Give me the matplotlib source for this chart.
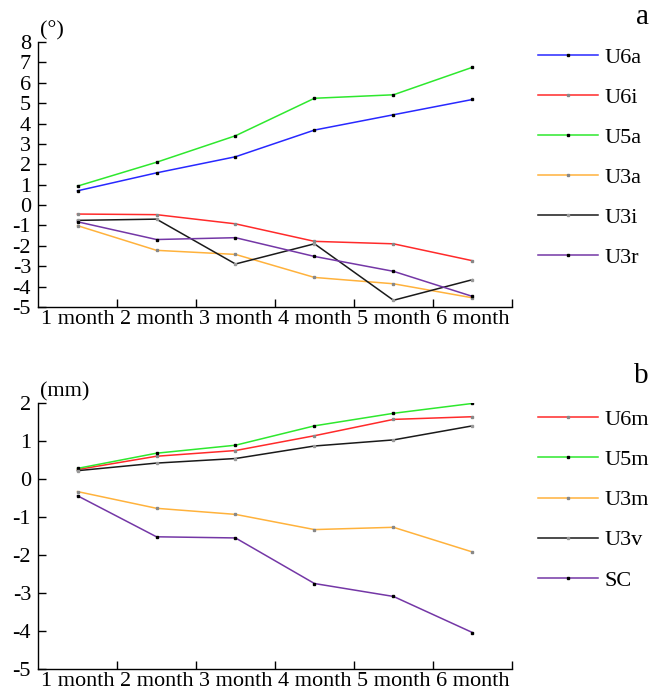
import numpy as np
import matplotlib
matplotlib.use("Agg")
import matplotlib.pyplot as plt

plt.rcParams['font.family'] = ['Liberation Serif', 'DejaVu Serif']

months = ["1 month", "2 month", "3 month", "4 month", "5 month", "6 month"]

# panel a, angles in degrees
U6a = [0.70, 1.58, 2.37, 3.68, 4.43, 5.18]
U6i = [-0.44, -0.47, -0.92, -1.78, -1.90, -2.73]
U5a = [0.93, 2.10, 3.40, 5.24, 5.41, 6.76]
U3a = [-1.01, -2.22, -2.42, -3.55, -3.86, -4.55]
U3i = [-0.75, -0.69, -2.89, -1.90, -4.67, -3.66]
U3r = [-0.82, -1.69, -1.60, -2.52, -3.25, -4.48]

# panel b, distances in mm
U6m = [0.25, 0.60, 0.75, 1.14, 1.57, 1.64]
U5m = [0.28, 0.68, 0.89, 1.40, 1.73, 1.99]
U3m = [-0.33, -0.77, -0.93, -1.33, -1.27, -1.92]
U3v = [0.22, 0.42, 0.54, 0.87, 1.03, 1.40]
SC = [-0.44, -1.52, -1.55, -2.75, -3.09, -4.04]

BLUE, RED, GREEN = '#2828ff', '#ff2a2a', '#2ee82e'
ORANGE, BLACK, PURPLE = '#ffb23c', '#1a1a1a', '#7437a6'

series_a = [("U6a", U6a, BLUE, 'k'), ("U6i", U6i, RED, '#888888'),
            ("U5a", U5a, GREEN, 'k'), ("U3a", U3a, ORANGE, '#888888'),
            ("U3i", U3i, BLACK, '#999999'), ("U3r", U3r, PURPLE, 'k')]
series_b = [("U6m", U6m, RED, '#888888'), ("U5m", U5m, GREEN, 'k'),
            ("U3m", U3m, ORANGE, '#888888'), ("U3v", U3v, BLACK, '#999999'),
            ("SC", SC, PURPLE, 'k')]

FS = 16
fig = plt.figure(figsize=(6.51, 6.93), dpi=100)
ax_a = fig.add_axes([0.0584, 0.557, 0.728, 0.3824])
ax_b = fig.add_axes([0.0584, 0.0346, 0.728, 0.3838])


def style(ax, series, ylo, yhi, unit, letter, letter_y, leg_top):
    x = np.arange(len(months)) + 0.5
    for name, vals, col, mcol in series:
        ax.plot(x, vals, color=col, lw=1.1, marker='s', ms=1.8,
                mfc=mcol, mec=mcol, label=name)
    ax.set_xlim(0, len(months))
    ax.set_ylim(ylo, yhi)
    ax.set_yticks(range(ylo, yhi + 1))
    ax.set_yticklabels([str(v) for v in range(ylo, yhi + 1)], fontsize=FS)
    ax.set_xticks(range(1, len(months) + 1))
    ax.set_xticklabels([])
    ax.set_xticks(x, minor=True)
    ax.set_xticklabels(months, minor=True, fontsize=FS)
    ax.tick_params(axis='both', which='major', direction='in', length=6,
                   width=1)
    ax.tick_params(axis='x', which='minor', length=0, pad=2)
    ax.tick_params(axis='y', pad=5)
    for s in ['top', 'right']:
        ax.spines[s].set_visible(False)
    for s in ['left', 'bottom']:
        ax.spines[s].set_linewidth(1)
    ax.text(0.004, 1.005, unit, transform=ax.transAxes, fontsize=FS,
            ha='left', va='bottom')
    fig.text(0.997, letter_y, letter, fontsize=21, ha='right', va='center')
    ax.legend(loc='upper left', bbox_to_anchor=(0.826, leg_top),
              bbox_transform=fig.transFigure, frameon=False, fontsize=FS,
              handlelength=2.7, handletextpad=0.3, labelspacing=0.88,
              borderpad=0, borderaxespad=0)


style(ax_a, series_a, -5, 8, "(°)", "a", 0.975, 0.932)
style(ax_b, series_b, -5, 2, "(mm)", "b", 0.458, 0.409)

fig.savefig("out.png", dpi=100)
